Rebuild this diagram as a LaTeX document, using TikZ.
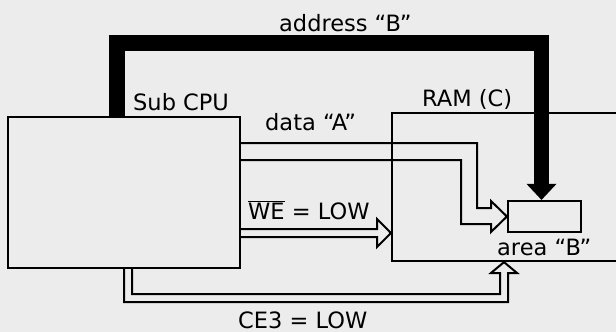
\documentclass[tikz,border=0pt]{standalone}
\usepackage{fontspec}
\setmainfont{DejaVu Sans}
\usepackage{xcolor}
\usepackage{tikz}
\usetikzlibrary{calc,arrows.meta,positioning}
\definecolor{paper}{gray}{0.925}
\tikzset{
  unitbox/.style = {draw, line width=2.2pt, inner sep=0pt},
  lbl/.style     = {font=\fontsize{22.5pt}{26pt}\selectfont, inner sep=0pt, anchor=base west},
  hollow/.style  = {draw, line width=2pt, line join=miter},
  addrbus/.style = {line width=15.5pt, line join=miter,
                    -{Triangle[length=16pt,width=30pt,line width=0pt]}},
}

\begin{document}
\begin{tikzpicture}[x=1pt,y=-1pt]
\path[use as bounding box] (0,0) rectangle (616,332);
\clip (0,0) rectangle (616,332);
\fill[paper] (0,0) rectangle (616,332);

\node[unitbox, minimum width=232pt, minimum height=151pt] (cpu)   at (124,192.5) {};
\node[unitbox, minimum width=316pt, minimum height=148pt] (ram)   at (550,187)   {};
\node[unitbox, minimum width=73pt,  minimum height=31pt]  (areaB) at (544.5,216.5) {};

\node[lbl] (lcpu)  at (133,110)   {Sub CPU};
\node[lbl] (lram)  at (422,106.7) {RAM (C)};
\node[lbl] (laddr) at (279,31.7)  {address ``B''};
\node[lbl] (ldata) at (265,130)   {data ``A''};
\node[lbl] (lwe)   at (248,219)   {$\overline{\hbox{WE}}$ = LOW};
\node[lbl] (larea) at (497,255)   {area ``B''};
\node[lbl] (lce)   at (238,328)   {CE3 = LOW};

% address bus
\draw[addrbus] ([xshift=110pt]cpu.north west) -- ++(0,-73) -| ([xshift=-3pt]areaB.north);

% data, WE and CE3 lines
\draw[hollow] (cpu.east |- 0,143) -- (477,143) -- (477,208) -- (491,208) -- (491,201)
  -- (areaB.west) -- (491,232) -- (491,224) -- (461,224) -- (461,160) -- (cpu.east |- 0,160);
\draw[hollow] (cpu.east |- 0,229) -- (377,229) -- (377,219) -- (ram.west |- 0,233)
  -- (377,247) -- (377,237) -- (cpu.east |- 0,237);
\draw[hollow] (cpu.south -| 124,0) -- (124,302) -- (508,302) -- (508,273) -- (517,273)
  -- (ram.south -| 504,0) -- (491,273) -- (500,273) -- (500,294) -- (132,294) -- (cpu.south -| 132,0);
\end{tikzpicture}
\end{document}
